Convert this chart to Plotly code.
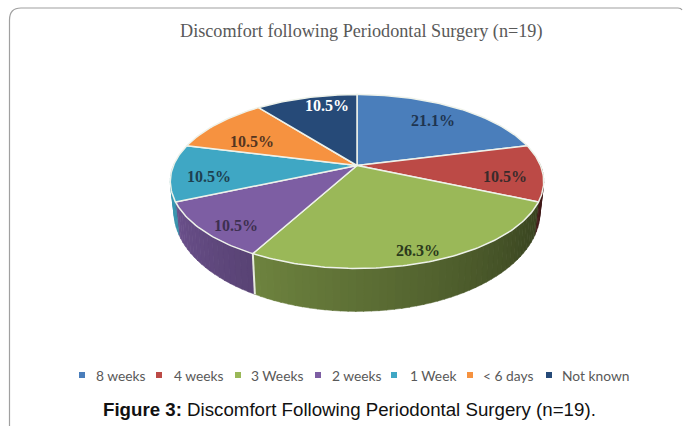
import math
import plotly.graph_objects as go

# Data: patient counts (n=19)
categories = ["8 weeks", "4 weeks", "3 Weeks", "2 weeks", "1 Week", "< 6 days", "Not known"]
counts = [4, 2, 5, 2, 2, 2, 2]
colors = ["#4a7ebb", "#bc4a46", "#9ab858", "#7d5ea3", "#3fa7c4", "#f69240", "#264a78"]
label_colors = ["#1f3550", "#3a2b2b", "#2b3a1c", "#3d3050", "#1d4050", "#553520", "#ffffff"]

# Layout constants (pixel-space axes)
W, H = 683, 426
HUB_X, HUB_Y = 357, 165.5
AX, BY, K = 183.5, 84, 0.184
DEPTH = 28.6
BOTTOM_SHRINK = 0.98
label_radius = [0.75, 0.80, 0.90, 0.86, 0.80, 0.67, 0.84]
label_shift = [0, 4.7, 0.7, -4.7, -4.7, -7, 6]
legend_marker_x = [82, 159, 238, 318, 394, 470, 549]
legend_text_x = [93.5, 171.5, 248.5, 329.5, 407.5, 480.5, 559.5]
LEGEND_Y = 375


def project(theta_deg, r=1.0):
    t = math.radians(theta_deg)
    s, c = r * math.sin(t), r * math.cos(t)
    w = 1 + K * c
    return HUB_X + AX * s / w, HUB_Y - BY * c / w


def project_bottom(theta_deg):
    t = math.radians(theta_deg)
    s, c = math.sin(t), math.cos(t)
    w = 1 + K * c
    return HUB_X + BOTTOM_SHRINK * AX * s / w, HUB_Y - BY * c / w + DEPTH / (w * w)


def shade(hex_color, f):
    r, g, b = (int(hex_color[i:i + 2], 16) for i in (1, 3, 5))
    return f"rgb({int(r * f)},{int(g * f)},{int(b * f)})"


total = sum(counts)
bounds = [0.0]
for v in counts:
    bounds.append(bounds[-1] + 360.0 * v / total)

fig = go.Figure()

# Side walls, drawn as short gradient segments
for i, colour in enumerate(colors):
    a0, a1 = bounds[i], bounds[i + 1]
    lo, hi = max(a0, 88), min(a1, 272)
    if hi <= lo:
        continue
    n = max(2, int((hi - lo) / 2))
    for j in range(n):
        t0 = lo + (hi - lo) * j / n
        t1 = lo + (hi - lo) * (j + 1) / n + 0.2
        p = [project(t0), project(t1), project_bottom(t1), project_bottom(t0), project(t0)]
        f = min(0.92, max(0.34, 0.37 + 0.0037 * ((t0 + t1) / 2 - 115)))
        col = shade(colour, f)
        fig.add_trace(go.Scatter(
            x=[q[0] for q in p], y=[q[1] for q in p], mode="lines", fill="toself",
            fillcolor=col, line=dict(color=col, width=0.5), hoverinfo="skip", showlegend=False))

# Separator on the front wall
for edge in bounds[1:-1]:
    if 120 < edge < 240:
        a, b = project(edge), project_bottom(edge)
        fig.add_trace(go.Scatter(x=[a[0], b[0]], y=[a[1], b[1]], mode="lines",
                                 line=dict(color="#e6ebdc", width=2), hoverinfo="skip", showlegend=False))

# Top wedges
for i, (name, colour) in enumerate(zip(categories, colors)):
    a0, a1 = bounds[i], bounds[i + 1]
    n = max(8, int(a1 - a0))
    pts = [(HUB_X, HUB_Y)] + [project(a0 + (a1 - a0) * j / n) for j in range(n + 1)] + [(HUB_X, HUB_Y)]
    fig.add_trace(go.Scatter(
        x=[p[0] for p in pts], y=[p[1] for p in pts], mode="lines", fill="toself",
        fillcolor=colour, line=dict(color="#eef2ea", width=1.5), name=name,
        hoverinfo="name", showlegend=False))

annotations = []
# Data labels
for i, v in enumerate(counts):
    mid = (bounds[i] + bounds[i + 1]) / 2 + label_shift[i]
    x, y = project(mid, label_radius[i])
    annotations.append(dict(x=x, y=y, xref="x", yref="y", text=f"<b>{100 * v / total:.1f}%</b>",
                            showarrow=False, font=dict(family="Liberation Serif", size=16, color=label_colors[i])))

# Legend
fig.add_trace(go.Scatter(
    x=legend_marker_x, y=[LEGEND_Y] * len(categories), mode="markers",
    marker=dict(symbol="square", size=6, color=colors), hoverinfo="skip", showlegend=False))
for name, tx in zip(categories, legend_text_x):
    annotations.append(dict(x=tx, y=LEGEND_Y, xref="x", yref="y", text=name, showarrow=False, xanchor="left",
                            font=dict(family="Lato", size=13.8, color="#595959")))

# Chart title and figure caption
annotations.append(dict(x=361, y=31, xref="x", yref="y", text="Discomfort following Periodontal Surgery (n=19)",
                        showarrow=False, font=dict(family="Liberation Serif", size=18.2, color="#595959")))
annotations.append(dict(x=349.5, y=409, xref="x", yref="y", text="<b>Figure 3:</b> Discomfort Following Periodontal Surgery (n=19).",
                        showarrow=False, font=dict(family="Liberation Sans", size=18.7, color="#111111")))

# Rounded frame, open at the bottom and running off to the right
frame = "M 9.5 430 L 9.5 20 Q 9.5 8 21 8 L 678 8 Q 681 8 682 10"
fig.update_layout(
    width=W, height=H, margin=dict(l=0, r=0, t=0, b=0),
    paper_bgcolor="white", plot_bgcolor="white", showlegend=False,
    xaxis=dict(range=[0, W], visible=False, fixedrange=True),
    yaxis=dict(range=[H, 0], visible=False, fixedrange=True),
    annotations=annotations,
    shapes=[dict(type="path", path=frame, line=dict(color="#a0a0a0", width=1.2), layer="below")],
)
fig.write_html("out.html", config={"displayModeBar": False},
               post_script="document.body.style.margin='0';document.body.style.overflow='hidden';")
